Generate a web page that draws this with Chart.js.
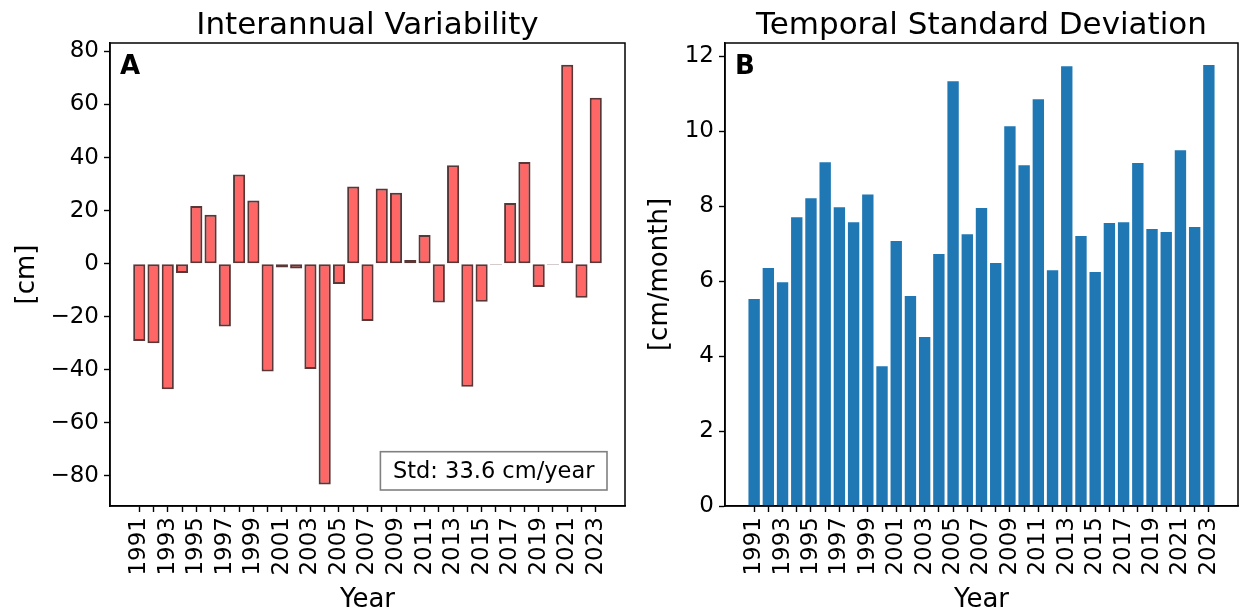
<!DOCTYPE html>
<html>
<head>
<meta charset="utf-8">
<script src="https://cdn.jsdelivr.net/npm/chart.js@4"></script>
<style>
  body { margin: 0; background: #fff; }
  #wrap { position: relative; width: 1243px; height: 613px; }
  canvas { position: absolute; top: 0; }
  #left { left: 0; }
  #right { left: 640px; }
</style>
</head>
<body>
<div id="wrap">
  <canvas id="left" width="640" height="613"></canvas>
  <canvas id="right" width="603" height="613"></canvas>
</div>
<script>
// yearly data
const years = [1991, 1992, 1993, 1994, 1995, 1996, 1997, 1998, 1999, 2000,
  2001, 2002, 2003, 2004, 2005, 2006, 2007, 2008, 2009, 2010,
  2011, 2012, 2013, 2014, 2015, 2016, 2017, 2018, 2019, 2020,
  2021, 2022, 2023];
// annual anomaly [cm]
const anomaly = [-29.2, -30.0, -47.4, -3.5, 21.7, 18.4, -23.7, 33.6, 23.8, -40.7,
  -1.5, -1.8, -39.7, -83.3, -7.7, 29.1, -21.6, 28.3, 26.7, 1.4,
  10.8, -14.7, 37.1, -46.4, -14.4, -0.4, 22.9, 38.3, -8.8, -0.4,
  75.0, -12.9, 62.6];
// std of monthly values within each year [cm/month]
const monthlyStd = [5.52, 6.35, 5.97, 7.70, 8.21, 9.17, 7.97, 7.57, 8.31, 3.73,
  7.07, 5.60, 4.51, 6.72, 11.33, 7.25, 7.95, 6.48, 10.13, 9.09,
  10.85, 6.29, 11.73, 7.20, 6.24, 7.55, 7.57, 9.15, 7.39, 7.31,
  9.49, 7.44, 11.76];

const labeledYears = [1991, 1993, 1995, 1997, 1999, 2001, 2003, 2005, 2007, 2009,
  2011, 2013, 2015, 2017, 2019, 2021, 2023];
const ticksA = [-80, -60, -40, -20, 0, 20, 40, 60, 80];
const ticksB = [0, 2, 4, 6, 8, 10, 12];
const stdLabel = 'Std: 33.6 cm/year';

Chart.defaults.font.family = '"DejaVu Sans"';
Chart.defaults.color = '#000';

const FONT_TICK = { size: 23 };
const FONT_AXIS = { size: 26, lineHeight: 1 };

function xScale() {
  return {
    type: 'linear',
    min: 1988.95,
    max: 2025.05,
    offset: false,
    afterBuildTicks: s => { s.ticks = years.map(v => ({ value: v })); },
    afterFit: s => { s.height = 107; },
    grid: { offset: false, drawOnChartArea: false, drawTicks: true, tickLength: 6, tickColor: '#000', tickWidth: 1.4 },
    border: { display: true, color: '#000', width: 1.5 },
    ticks: {
      autoSkip: false,
      minRotation: 90,
      maxRotation: 90,
      padding: 5,
      font: FONT_TICK,
      callback: v => labeledYears.includes(v) ? String(v) : ''
    },
    title: { display: true, text: 'Year', font: FONT_AXIS, padding: { top: 0, bottom: 0 } }
  };
}

function yScale(min, max, tickList, width, label, titlePad) {
  return {
    min: min,
    max: max,
    afterBuildTicks: s => { s.ticks = tickList.map(v => ({ value: v })); },
    afterFit: s => { s.width = width; },
    grid: { drawOnChartArea: false, drawTicks: true, tickLength: 6, tickColor: '#000', tickWidth: 1.4 },
    border: { display: true, color: '#000', width: 1.5 },
    ticks: {
      padding: 5,
      font: FONT_TICK,
      callback: v => v < 0 ? '\u2212' + Math.abs(v) : String(v)
    },
    title: { display: true, text: label, font: FONT_AXIS, padding: { top: titlePad, bottom: 0 } }
  };
}

// frame, title and panel letter
function panelDecor(title, letter) {
  return {
    id: 'panelDecor',
    afterDraw(chart) {
      const { ctx, chartArea: a } = chart;
      ctx.save();
      ctx.strokeStyle = '#000';
      ctx.lineWidth = 1.5;
      ctx.strokeRect(a.left, a.top, a.right - a.left, a.bottom - a.top);
      ctx.fillStyle = '#000';
      ctx.font = '31px "DejaVu Sans"';
      ctx.textAlign = 'center';
      ctx.textBaseline = 'alphabetic';
      ctx.fillText(title, (a.left + a.right) / 2, 34);
      ctx.font = 'bold 26px "DejaVu Sans"';
      ctx.textAlign = 'left';
      ctx.fillText(letter, a.left + 10, a.top + 30.6);
      ctx.restore();
    }
  };
}

const stdBox = {
  id: 'stdBox',
  afterDraw(chart) {
    const { ctx, chartArea: a } = chart;
    const w = 226.6, h = 38.3;
    const x = a.right - 18 - w, y = a.bottom - 16 - h;
    ctx.save();
    ctx.fillStyle = '#fff';
    ctx.fillRect(x, y, w, h);
    ctx.strokeStyle = '#808080';
    ctx.lineWidth = 1.6;
    ctx.strokeRect(x, y, w, h);
    ctx.fillStyle = '#000';
    ctx.font = '22.5px "DejaVu Sans"';
    ctx.textAlign = 'center';
    ctx.textBaseline = 'alphabetic';
    ctx.fillText(stdLabel, x + w / 2, y + 26.6);
    ctx.restore();
  }
};

new Chart(document.getElementById('left'), {
  type: 'bar',
  data: {
    datasets: [{
      data: years.map((yr, i) => ({ x: yr, y: anomaly[i] })),
      backgroundColor: 'rgba(255, 0, 0, 0.6)',
      borderColor: 'rgba(60, 20, 20, 0.85)',
      borderWidth: 2,
      borderSkipped: false,
      barPercentage: 0.85,
      categoryPercentage: 1.0
    }]
  },
  options: {
    responsive: false,
    animation: false,
    layout: { padding: { top: 43, right: 15, left: 0, bottom: 0 } },
    plugins: { legend: { display: false }, tooltip: { enabled: false } },
    scales: {
      x: xScale(),
      y: yScale(-91.4, 83.2, ticksA, 110, '[cm]', 14)
    }
  },
  plugins: [panelDecor('Interannual Variability', 'A'), stdBox]
});

new Chart(document.getElementById('right'), {
  type: 'bar',
  data: {
    datasets: [{
      data: years.map((yr, i) => ({ x: yr, y: monthlyStd[i] })),
      backgroundColor: '#1f77b4',
      borderWidth: 0,
      barPercentage: 0.8,
      categoryPercentage: 1.0
    }]
  },
  options: {
    responsive: false,
    animation: false,
    layout: { padding: { top: 43, right: 5, left: 0, bottom: 0 } },
    plugins: { legend: { display: false }, tooltip: { enabled: false } },
    scales: {
      x: xScale(),
      y: yScale(0, 12.35, ticksB, 85, '[cm/month]', 7)
    }
  },
  plugins: [panelDecor('Temporal Standard Deviation', 'B')]
});
</script>
</body>
</html>
